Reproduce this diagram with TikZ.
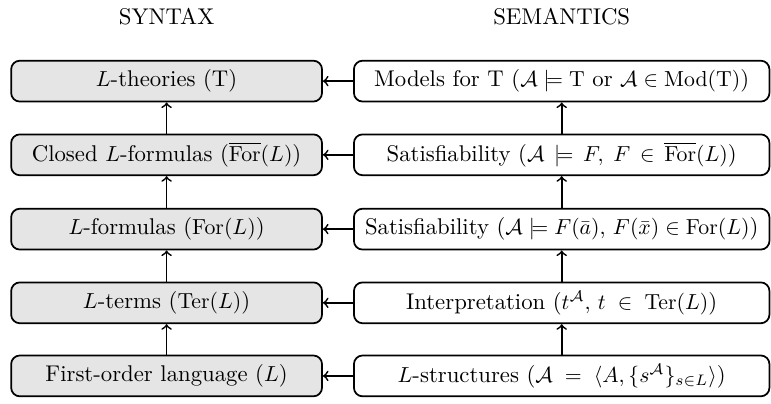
\documentclass[tikz,border=0pt]{standalone}
\usepackage{amsmath}
\usepackage{amssymb}
\usepackage{tikz}

\begin{document}
\begin{tikzpicture}[
    every node/.style={font=\fontsize{10.45}{12.5}\selectfont},
    syn/.style={rectangle, draw=black, thick, rounded corners=4pt,
        fill=black!10, minimum width=5.02cm, minimum height=0.66cm,
        inner sep=1pt},
    sem/.style={rectangle, draw=black, thick, rounded corners=4pt,
        fill=white, minimum width=6.71cm, minimum height=0.66cm,
        inner sep=1pt},
    conn/.style={->, thick}]
\useasboundingbox (0,0) rectangle (12.45,-6.52);
\node (syntax) at (2.69,-0.27) {SYNTAX};
\node (semantics) at (9.07,-0.27) {SEMANTICS};
% syntax column
\node[syn] (T) at (2.69,-1.31) {$L$-theories (T)};
\node[syn] (CF) at (2.69,-2.50) {Closed $L$-formulas ($\overline{\mathrm{For}}(L)$)};
\node[syn] (F) at (2.69,-3.70) {$L$-formulas ($\mathrm{For}(L)$)};
\node[syn] (Ter) at (2.69,-4.89) {$L$-terms ($\mathrm{Ter}(L)$)};
\node[syn] (Lang) at (2.69,-6.07) {First-order language ($L$)};
% semantics column
\node[sem] (Mod) at (9.07,-1.31) {Models for T ($\mathcal{A}\models \mathrm{T}$ or $\mathcal{A}\in\mathrm{Mod}(\mathrm{T})$)};
\node[sem] (Sat1) at (9.07,-2.50) {Satisfiability ($\mathcal{A}\,\models\,F,\;F\,\in\,\overline{\mathrm{For}}(L)$)};
\node[sem] (Sat2) at (9.07,-3.70) {Satisfiability ($\mathcal{A}\models F(\bar{a}),\,F(\bar{x})\in\mathrm{For}(L)$)};
\node[sem] (Int) at (9.07,-4.89) {Interpretation ($t^{\mathcal{A}},\,t\;\in\;\mathrm{Ter}(L)$)};
\node[sem] (Str) at (9.07,-6.07) {$L$-structures ($\mathcal{A}\;=\;\langle A,\{s^{\mathcal{A}}\}_{s\in L}\rangle$)};
\draw[conn] (CF) -- (T);
\draw[conn] (F) -- (CF);
\draw[conn] (Ter) -- (F);
\draw[conn] (Lang) -- (Ter);
\draw[conn] (Sat1) -- (Mod);
\draw[conn] (Sat2) -- (Sat1);
\draw[conn] (Int) -- (Sat2);
\draw[conn] (Str) -- (Int);
\draw[conn] (Mod) -- (T);
\draw[conn] (Sat1) -- (CF);
\draw[conn] (Sat2) -- (F);
\draw[conn] (Int) -- (Ter);
\draw[conn] (Str) -- (Lang);
\end{tikzpicture}
\end{document}
